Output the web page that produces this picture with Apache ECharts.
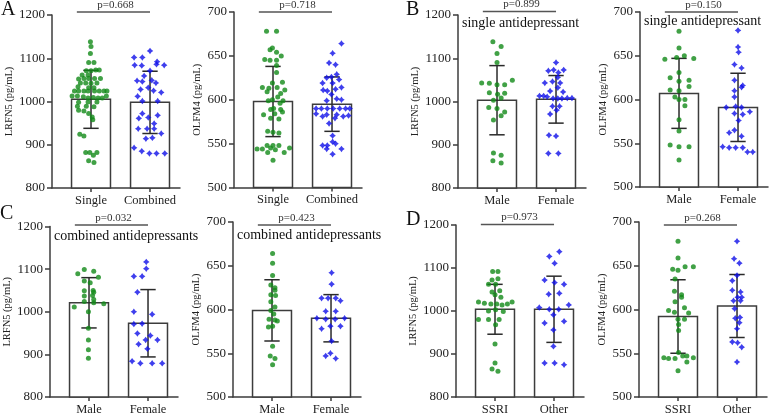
<!DOCTYPE html>
<html><head><meta charset="utf-8">
<script src="https://cdn.jsdelivr.net/npm/echarts@6/dist/echarts.min.js"></script>
<style>html,body{margin:0;padding:0;background:#fff}#c{width:779px;height:416px}</style>
</head><body><div id="c"></div>
<script>
// ================= DATA =================
// tick labels
const lrfn5Ticks = [800, 900, 1000, 1100, 1200];
const olfm4Ticks = [500, 550, 600, 650, 700];
const lrfn5Name = 'LRFN5 (pg/mL)';
const olfm4Name = 'OLFM4 (pg/mL)';

// ---- Panel A: Single vs Combined ----
const catsA = ['Single', 'Combined'];
const lrfn5A_mean = [1005, 998];
const lrfn5A_sd = [67, 72];
const lrfn5A_p = 'p=0.668';
// dots: [jitter within category, value]
const lrfn5A_g1 = [[-0.01,1138],[0,1127],[-0.01,1111],[-0.04,1090],[0.05,1090],[-0.08,1071],[0,1071],[0.08,1073],[0.14,1073],[-0.15,1061],[-0.05,1061],[-0.21,1052],[-0.12,1053],[-0.04,1053],[0.06,1053],[0.16,1053],[-0.18,1043],[-0.09,1043],[0,1042],[0.1,1043],[-0.22,1034],[-0.04,1032],[0.05,1032],[-0.28,1024],[-0.21,1024],[-0.12,1024],[-0.05,1024],[0.06,1024],[0.14,1024],[0.22,1024],[0.27,1024],[-0.32,1013],[-0.23,1013],[-0.13,1011],[-0.05,1008],[0.04,1009],[0.12,1008],[0.19,1008],[0.26,1013],[-0.21,998],[-0.05,999],[0.1,999],[-0.23,989],[-0.08,989],[0.05,988],[-0.21,980],[-0.12,978],[-0.04,972],[0.02,964],[0.03,958],[-0.19,924],[-0.12,920],[-0.09,882],[-0.02,882],[0.1,882],[0.04,876],[-0.04,863],[0.05,859]];
const lrfn5A_g2 = [[0,1117],[-0.27,1102],[-0.13,1102],[0.12,1092],[0.11,1086],[-0.26,1084],[-0.14,1083],[0.24,1084],[0,1071],[-0.1,1059],[0.03,1049],[-0.22,1048],[-0.13,1046],[0.1,1043],[-0.03,1032],[-0.16,1028],[0.06,1025],[0.19,1021],[-0.21,1012],[-0.13,1001],[0.13,1001],[-0.13,972],[0.13,968],[-0.03,963],[-0.19,961],[0.07,949],[-0.2,937],[-0.05,937],[0.07,937],[0.19,926],[-0.07,914],[0.04,916],[-0.27,893],[-0.14,885],[-0.01,880],[0.11,880],[0.25,880]];
const olfm4A_mean = [598, 595];
const olfm4A_sd = [40, 31];
const olfm4A_p = 'p=0.718';
const olfm4A_g1 = [[-0.11,678],[0.06,678],[-0.01,659],[-0.05,657],[0.06,654],[0.14,650],[-0.14,646],[-0.05,645],[0.06,645],[0.06,639],[0.06,631],[-0.01,619],[0.16,620],[-0.18,614],[-0.07,613],[0.07,614],[-0.1,609],[0.2,611],[0.13,607],[0.08,603],[-0.08,599],[-0.01,600],[0.17,599],[0.12,596],[0.01,590],[-0.04,589],[0.13,589],[-0.16,583],[0.03,584],[0.16,586],[-0.04,579],[0.1,578],[-0.09,564],[0,563],[0.1,562],[-0.1,548],[0,548],[0.1,548],[-0.04,545],[-0.27,544],[-0.18,544],[0.04,543],[0.28,545],[-0.09,540],[0.19,540],[0,531]];
const olfm4A_g2 = [[0.16,664],[0.01,653],[-0.05,642],[0.06,640],[0.08,629],[-0.09,625],[-0.01,626],[0.12,623],[-0.16,619],[0.01,619],[0.16,614],[-0.15,611],[-0.08,610],[0.06,612],[-0.01,606],[0.08,601],[-0.09,599],[0.16,600],[-0.27,590],[-0.18,590],[-0.08,590],[0.02,590],[0.13,590],[0.23,590],[0.3,590],[-0.27,584],[-0.16,581],[-0.09,583],[0.08,583],[0.19,581],[0.28,582],[0.05,579],[-0.05,573],[0.01,559],[0.01,552],[-0.16,548],[-0.08,548],[0.06,550],[-0.09,544],[0.16,544],[0.01,538]];

// ---- Panel B: single antidepressant, Male vs Female ----
const catsB = ['Male', 'Female'];
const subtitleB = 'single antidepressant';
const lrfn5B_mean = [1003, 1005];
const lrfn5B_sd = [80, 55];
const lrfn5B_p = 'p=0.899';
const lrfn5B_g1 = [[-0.07,1138],[0.07,1127],[0,1111],[0,1090],[0.26,1049],[-0.26,1043],[-0.13,1042],[0,1039],[0.13,1039],[-0.13,1020],[0.01,1017],[0.13,1019],[0.07,1008],[-0.06,1003],[-0.14,986],[0,984],[0.13,976],[0.07,967],[-0.06,957],[-0.06,881],[0.07,876],[-0.07,863],[0.07,858]];
const lrfn5B_g2 = [[0,1090],[-0.13,1071],[-0.04,1073],[0.04,1067],[0.13,1073],[0.03,1056],[-0.19,1043],[-0.06,1046],[0.07,1043],[0.03,1032],[-0.1,1024],[0.12,1022],[-0.28,1013],[-0.21,1013],[-0.15,1011],[-0.05,1007],[0.03,1007],[0.1,1007],[0.19,1008],[0.27,1008],[-0.06,989],[0.06,989],[0.01,980],[-0.1,971],[-0.12,922],[0,920],[-0.13,880],[0.04,880]];
const olfm4B_mean = [607, 591];
const olfm4B_sd = [40, 39];
const olfm4B_p = 'p=0.150';
const olfm4B_g1 = [[0,678],[0,659],[0.09,650],[-0.24,646],[-0.04,648],[0.25,647],[0,631],[-0.15,625],[0,621],[0.17,622],[0.17,615],[-0.15,611],[0,610],[-0.07,603],[0,600],[0.1,600],[0.1,593],[0,577],[0,564],[-0.15,548],[0,546],[0.17,546],[0,531]];
const olfm4B_g2 = [[0,679],[0,660],[0.01,654],[-0.06,640],[0.06,636],[-0.06,622],[0.08,616],[0.06,614],[-0.06,610],[-0.06,603],[-0.2,591],[-0.04,592],[0.06,591],[-0.06,584],[0.08,583],[0.2,586],[0.01,576],[-0.06,565],[-0.15,562],[0.06,558],[-0.26,546],[-0.15,545],[-0.04,545],[0.08,545],[0.16,540],[0.25,540]];

// ---- Panel C: combined antidepressants, Male vs Female ----
const catsC = ['Male', 'Female'];
const subtitleC = 'combined antidepressants';
const lrfn5C_mean = [1021, 973];
const lrfn5C_sd = [59, 79];
const lrfn5C_p = 'p=0.032';
const lrfn5C_g1 = [[-0.19,1089],[-0.08,1099],[0.08,1095],[0.16,1081],[-0.08,1072],[0.02,1068],[-0.08,1049],[0.07,1050],[0.08,1046],[-0.08,1037],[0.06,1038],[0.08,1029],[-0.08,1024],[0.08,1021],[-0.25,1011],[0.25,1019],[-0.01,1000],[-0.01,961],[-0.01,934],[-0.01,911],[-0.01,891]];
const lrfn5C_g2 = [[-0.03,1117],[-0.03,1101],[-0.24,1083],[-0.1,1083],[-0.18,1046],[-0.24,1000],[0.07,994],[-0.1,972],[-0.24,971],[-0.18,949],[0.04,944],[-0.04,934],[0.16,934],[-0.16,924],[-0.01,913],[-0.27,884],[-0.13,879],[0.07,879],[0.24,879]];
const olfm4C_mean = [599, 590];
const olfm4C_sd = [35, 27];
const olfm4C_p = 'p=0.423';
const olfm4C_g1 = [[0.01,664],[0.01,653],[0.01,639],[-0.02,628],[0.05,625],[0.05,622],[-0.02,617],[0.06,616],[-0.02,609],[0.05,603],[-0.02,599],[0.03,595],[-0.05,589],[0.05,588],[0.09,587],[-0.06,580],[0.01,581],[0.01,558],[-0.03,547],[0.05,544],[0.01,537]];
const olfm4C_g2 = [[0.01,642],[0.01,629],[-0.16,613],[-0.05,613],[0.08,613],[0.16,610],[-0.09,598],[0.08,598],[-0.24,590],[-0.09,589],[0.07,589],[0.23,590],[-0.16,578],[-0.01,581],[0.16,581],[0.01,564],[-0.01,550],[-0.09,547],[0.08,544]];

// ---- Panel D: SSRI vs Other ----
const catsD = ['SSRI', 'Other'];
const lrfn5D_mean = [1004, 1004];
const lrfn5D_sd = [58, 77];
const lrfn5D_p = 'p=0.973';
const lrfn5D_g1 = [[-0.04,1092],[0.05,1092],[-0.05,1072],[0.05,1075],[-0.11,1062],[0.01,1062],[-0.05,1044],[0.08,1047],[0,1038],[0.1,1032],[-0.28,1021],[-0.18,1018],[-0.07,1016],[0.03,1016],[0.12,1014],[0.21,1016],[0.29,1021],[-0.11,1000],[0.01,1003],[0.14,999],[-0.28,980],[-0.11,980],[0.07,980],[0.01,968],[0,923],[0,879],[-0.05,865],[0.05,860]];
const lrfn5D_g2 = [[0.09,1138],[-0.08,1127],[0.01,1111],[-0.16,1072],[0.01,1066],[0.17,1062],[-0.09,1039],[0.09,1041],[-0.25,1008],[-0.08,1004],[0.08,1004],[0.25,1014],[-0.01,991],[-0.16,972],[0.17,976],[-0.01,956],[-0.01,918],[-0.16,879],[0.01,879],[0.17,875]];
const olfm4D_mean = [592, 604];
const olfm4D_sd = [42, 36];
const olfm4D_p = 'p=0.268';
const olfm4D_g1 = [[0,678],[0,659],[0.12,649],[0.26,649],[-0.09,646],[0,645],[-0.05,635],[-0.06,621],[0.06,617],[0.06,614],[-0.05,609],[0.11,602],[-0.16,599],[-0.06,597],[0.18,596],[0,589],[0.11,589],[0.01,583],[0.01,576],[0.01,551],[-0.24,545],[-0.16,544],[-0.05,544],[0.08,547],[0.15,547],[0.26,545],[0.15,540],[0,530]];
const olfm4D_g2 = [[0,678],[-0.05,658],[0.04,653],[0,639],[-0.08,633],[-0.08,622],[0.06,620],[0.01,614],[0.08,614],[-0.06,610],[0.06,610],[-0.04,601],[-0.03,590],[0.05,591],[0.04,585],[0,578],[-0.08,563],[0.01,562],[0.08,557],[0,540]];

// ================= STYLE / LAYOUT =================
const FONT = '"Liberation Serif", "Times New Roman", serif';
const AX = '#3c3c3c';
const TXT = '#222';
const GREEN = '#128a18';
const BLUE = '#0f0fe8';
const STAR = 'path://M0,-10 L4.2,-4.2 L10,0 L4.2,4.2 L0,10 L-4.2,4.2 L-10,0 L-4.2,-4.2 Z';
const X_MIN = -0.661, X_MAX = 1.508;
const BAR_W = 0.66, CAP_W = 0.26;
const BR_L = -0.24, BR_R = 1.0;
const GRID_W = 128;

const panels = [
  {cats: catsA, mean: lrfn5A_mean, sd: lrfn5A_sd, g: [lrfn5A_g1, lrfn5A_g2], p: lrfn5A_p, ticks: lrfn5Ticks, name: lrfn5Name},
  {cats: catsA, mean: olfm4A_mean, sd: olfm4A_sd, g: [olfm4A_g1, olfm4A_g2], p: olfm4A_p, ticks: olfm4Ticks, name: olfm4Name},
  {cats: catsB, mean: lrfn5B_mean, sd: lrfn5B_sd, g: [lrfn5B_g1, lrfn5B_g2], p: lrfn5B_p, ticks: lrfn5Ticks, name: lrfn5Name, sub: subtitleB},
  {cats: catsB, mean: olfm4B_mean, sd: olfm4B_sd, g: [olfm4B_g1, olfm4B_g2], p: olfm4B_p, ticks: olfm4Ticks, name: olfm4Name, sub: subtitleB},
  {cats: catsC, mean: lrfn5C_mean, sd: lrfn5C_sd, g: [lrfn5C_g1, lrfn5C_g2], p: lrfn5C_p, ticks: lrfn5Ticks, name: lrfn5Name, sub: subtitleC},
  {cats: catsC, mean: olfm4C_mean, sd: olfm4C_sd, g: [olfm4C_g1, olfm4C_g2], p: olfm4C_p, ticks: olfm4Ticks, name: olfm4Name, sub: subtitleC},
  {cats: catsD, mean: lrfn5D_mean, sd: lrfn5D_sd, g: [lrfn5D_g1, lrfn5D_g2], p: lrfn5D_p, ticks: lrfn5Ticks, name: lrfn5Name},
  {cats: catsD, mean: olfm4D_mean, sd: olfm4D_sd, g: [olfm4D_g1, olfm4D_g2], p: olfm4D_p, ticks: olfm4Ticks, name: olfm4Name}
];
// layout: axis x, top, bottom (px), bracket y, name gap, subtitle y
const layout = [
  {x: 52,  top: 15,    bottom: 188,   brY: 12,    gap: 35},
  {x: 234, top: 12,    bottom: 187.5, brY: 12,    gap: 31},
  {x: 458, top: 15,    bottom: 188,   brY: 11.5,  gap: 35, subY: 16},
  {x: 640, top: 12,    bottom: 187,   brY: 12,    gap: 31, subY: 14},
  {x: 50,  top: 226.5, bottom: 398,   brY: 225,   gap: 33, subY: 229},
  {x: 233, top: 222,   bottom: 398,   brY: 225,   gap: 31, subY: 228},
  {x: 456, top: 225,   bottom: 397.5, brY: 224.5, gap: 35},
  {x: 639, top: 222,   bottom: 397.5, brY: 225,   gap: 31}
];
const letters = [
  {t: 'A', left: 1, top: 0}, {t: 'B', left: 406, top: 0},
  {t: 'C', left: 0, top: 204}, {t: 'D', left: 406, top: 210}
];

const grid = [], xAxis = [], yAxis = [], series = [], title = [];
panels.forEach((pd, i) => {
  const L = layout[i];
  const yMin = pd.ticks[0], yMax = pd.ticks[pd.ticks.length - 1];
  grid.push({left: L.x, top: L.top, width: GRID_W, height: L.bottom - L.top});
  xAxis.push({
    type: 'value', gridIndex: i, min: X_MIN, max: X_MAX,
    splitLine: {show: false},
    axisLine: {show: true, onZero: false, lineStyle: {color: AX, width: 1.5}},
    axisTick: {show: true, customValues: [0, 1], length: 4, lineStyle: {color: AX, width: 1.5}},
    axisLabel: {show: true, customValues: [0, 1], formatter: v => pd.cats[Math.round(v)],
      fontSize: 12.5, fontFamily: FONT, color: TXT, margin: 6}
  });
  yAxis.push({
    type: 'value', gridIndex: i, min: yMin, max: yMax, interval: pd.ticks[1] - pd.ticks[0],
    splitLine: {show: false},
    axisLine: {show: true, onZero: false, lineStyle: {color: AX, width: 1.5}},
    axisTick: {show: true, length: 5, lineStyle: {color: AX, width: 1.5}},
    axisLabel: {fontSize: 13, fontFamily: FONT, color: TXT, margin: 7, formatter: v => String(v)},
    name: pd.name, nameLocation: 'middle', nameGap: L.gap, nameRotate: 90,
    nameTextStyle: {fontSize: 10.5, fontFamily: FONT, color: TXT}
  });
  // bars
  series.push({
    type: 'custom', xAxisIndex: i, yAxisIndex: i, z: 2, clip: false, silent: true,
    data: pd.mean.map((m, k) => [k, m, pd.sd[k]]),
    renderItem: (params, api) => {
      const x = api.value(0), m = api.value(1);
      const top = api.coord([x, m]), base = api.coord([x, yMin]);
      const w = api.size([BAR_W, 0])[0];
      return {type: 'rect', shape: {x: top[0] - w / 2, y: top[1], width: w, height: base[1] - top[1]},
        style: {fill: '#fff', stroke: AX, lineWidth: 1.5}};
    }
  });
  // error bars (mean ± SD)
  series.push({
    type: 'custom', xAxisIndex: i, yAxisIndex: i, z: 3, clip: false, silent: true,
    data: pd.mean.map((m, k) => [k, m, pd.sd[k]]),
    renderItem: (params, api) => {
      const x = api.value(0), m = api.value(1), s = api.value(2);
      const hi = api.coord([x, m + s]), lo = api.coord([x, m - s]);
      const cw = api.size([CAP_W, 0])[0];
      const st = {stroke: '#2a2a2a', lineWidth: 1.5};
      return {type: 'group', children: [
        {type: 'line', shape: {x1: hi[0], y1: hi[1], x2: lo[0], y2: lo[1]}, style: st},
        {type: 'line', shape: {x1: hi[0] - cw / 2, y1: hi[1], x2: hi[0] + cw / 2, y2: hi[1]}, style: st},
        {type: 'line', shape: {x1: lo[0] - cw / 2, y1: lo[1], x2: lo[0] + cw / 2, y2: lo[1]}, style: st}
      ]};
    }
  });
  // dots
  pd.g.forEach((grp, k) => {
    series.push({
      type: 'scatter', xAxisIndex: i, yAxisIndex: i, z: 4, silent: true,
      symbol: k === 0 ? 'circle' : STAR, symbolSize: k === 0 ? 5 : 6.5,
      itemStyle: {color: k === 0 ? GREEN : BLUE},
      data: grp.map(d => [k + d[0], d[1]])
    });
  });
  // significance bracket
  series.push({
    type: 'custom', xAxisIndex: i, yAxisIndex: i, z: 5, clip: false, silent: true,
    data: [[0, yMax]],
    renderItem: (params, api) => {
      const x1 = api.coord([BR_L, yMax])[0], x2 = api.coord([BR_R, yMax])[0];
      const y = L.brY;
      return {type: 'group', children: [
        {type: 'line', shape: {x1: x1, y1: y, x2: x2, y2: y}, style: {stroke: '#555', lineWidth: 1.3}},
        {type: 'text', style: {text: pd.p, x: (x1 + x2) / 2 + 2, y: y - 7, align: 'center', verticalAlign: 'middle',
          fontSize: 11, fontFamily: FONT, fill: '#333'}}
      ]};
    }
  });
  if (pd.sub) {
    title.push({text: pd.sub, left: L.x + 4, top: L.subY,
      textStyle: {fontSize: 14, fontWeight: 'normal', fontFamily: FONT, color: '#111'}, padding: 0});
  }
});
letters.forEach(l => title.push({text: l.t, left: l.left, top: l.top, padding: 0,
  textStyle: {fontSize: 20, fontWeight: 'normal', fontFamily: FONT, color: '#111'}}));

const chart = echarts.init(document.getElementById('c'), null, {renderer: 'canvas'});
chart.setOption({animation: false, backgroundColor: '#fff', title, grid, xAxis, yAxis, series});
</script></body></html>
